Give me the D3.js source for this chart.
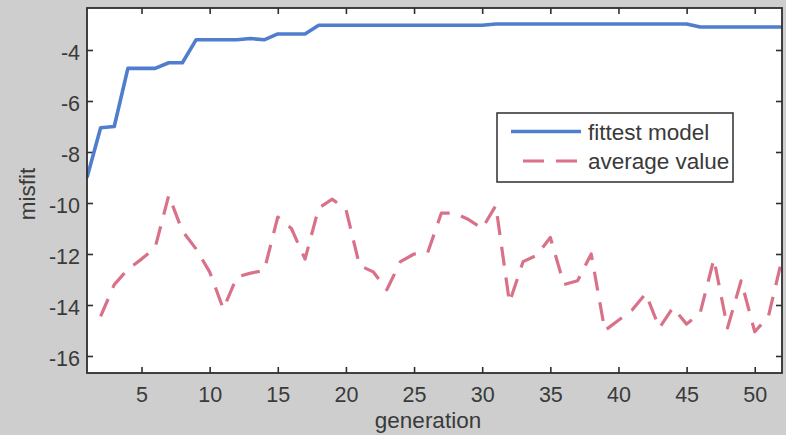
<!DOCTYPE html>
<html>
<head>
<meta charset="utf-8">
<script src="https://cdn.jsdelivr.net/npm/d3@7"></script>
<style>
  html, body { margin: 0; padding: 0; background: #cdcecd; }
  svg { display: block; }
  text { font-family: "Liberation Sans", Arial, sans-serif; fill: #3a3a3a; }
</style>
</head>
<body>
<svg id="chart" width="786" height="435"></svg>
<script>
// ---- data ----
const generationsFit = d3.range(1, 53);
const fittestModel = [
  -9.0, -7.05, -7.0, -4.72, -4.72, -4.72, -4.5, -4.5, -3.6, -3.6,
  -3.6, -3.6, -3.55, -3.6, -3.37, -3.37, -3.37, -3.03, -3.03, -3.03,
  -3.03, -3.03, -3.03, -3.03, -3.03, -3.03, -3.03, -3.03, -3.03, -3.03,
  -2.98, -2.98, -2.98, -2.98, -2.98, -2.98, -2.98, -2.98, -2.98, -2.98,
  -2.98, -2.98, -2.98, -2.98, -2.98, -3.1, -3.1, -3.1, -3.1, -3.1,
  -3.1, -3.1
];
const generationsAvg = d3.range(2, 53);
const averageValue = [
  -14.45, -13.2, -12.6, -12.2, -11.75, -9.7, -11.1, -11.8, -12.7,
  -14.15, -12.9, -12.75, -12.65, -10.55, -11.0, -12.2, -10.2, -9.85, -10.25,
  -12.45, -12.7, -13.4, -12.3, -12.0, -11.95, -10.4, -10.4, -10.65, -11.0,
  -10.1, -13.9, -12.3, -12.05, -11.35, -13.2, -13.05, -12.0, -15.0, -14.6,
  -14.2, -13.55, -14.9, -14.1, -14.75, -14.3, -12.2, -14.9, -13.05, -15.05,
  -14.45, -12.2
];
const xTicks = [5, 10, 15, 20, 25, 30, 35, 40, 45, 50];
const yTicks = [-4, -6, -8, -10, -12, -14, -16];
const seriesNames = ["fittest model", "average value"];
const xLabel = "generation";
const yLabel = "misfit";

// ---- layout ----
const pLeft = 87, pRight = 782, pTop = 8, pBottom = 373;
const svg = d3.select("#chart");

const x = d3.scaleLinear().domain([1, 52]).range([pLeft, pRight]);
const y = d3.scaleLinear().domain([-16.667, -2.353]).range([pBottom, pTop]);

svg.append("rect")
  .attr("x", pLeft).attr("y", pTop)
  .attr("width", pRight - pLeft).attr("height", pBottom - pTop)
  .attr("fill", "#ffffff");

svg.append("clipPath").attr("id", "clip")
  .append("rect")
  .attr("x", pLeft).attr("y", pTop)
  .attr("width", pRight - pLeft).attr("height", pBottom - pTop);

const tickFont = 21.5;
const labelFont = 22.5;
const axisColor = "#2e2e2e";

const xAxisB = d3.axisBottom(x).tickValues(xTicks).tickSizeInner(-6).tickSizeOuter(0).tickPadding(14);
const xAxisT = d3.axisTop(x).tickValues(xTicks).tickSizeInner(-6).tickSizeOuter(0).tickFormat("");
const yAxisL = d3.axisLeft(y).tickValues(yTicks).tickSizeInner(-6).tickSizeOuter(0).tickPadding(7);
const yAxisR = d3.axisRight(y).tickValues(yTicks).tickSizeInner(-6).tickSizeOuter(0).tickFormat("");

function styleAxis(g) {
  g.select(".domain").remove();
  g.selectAll(".tick line").attr("stroke", axisColor).attr("stroke-width", 1.6);
  g.selectAll(".tick text")
    .attr("fill", "#3a3a3a")
    .style("font-family", '"Liberation Sans", Arial, sans-serif')
    .style("font-size", tickFont + "px");
}

svg.append("g").attr("transform", `translate(0,${pBottom})`).call(xAxisB).call(styleAxis)
  .selectAll(".tick text").attr("dy", "0.71em");
svg.append("g").attr("transform", `translate(0,${pTop})`).call(xAxisT).call(styleAxis);
svg.append("g").attr("transform", `translate(${pLeft},0)`).call(yAxisL).call(styleAxis)
  .selectAll(".tick text").attr("dy", "0.42em").text(d => "-" + Math.abs(d));
svg.append("g").attr("transform", `translate(${pRight},0)`).call(yAxisR).call(styleAxis);

const plot = svg.append("g").attr("clip-path", "url(#clip)");

const lineFit = d3.line().x((d, i) => x(generationsFit[i])).y(d => y(d));
const lineAvg = d3.line().x((d, i) => x(generationsAvg[i])).y(d => y(d));

plot.append("path")
  .datum(averageValue)
  .attr("d", lineAvg)
  .attr("fill", "none")
  .attr("stroke", "#d97189")
  .attr("stroke-width", 3.2)
  .attr("stroke-dasharray", "19,12")
  .attr("stroke-linejoin", "round");

plot.append("path")
  .datum(fittestModel)
  .attr("d", lineFit)
  .attr("fill", "none")
  .attr("stroke", "#4f7fcc")
  .attr("stroke-width", 3.6)
  .attr("stroke-linejoin", "round");

svg.append("rect")
  .attr("x", pLeft).attr("y", pTop)
  .attr("width", pRight - pLeft).attr("height", pBottom - pTop)
  .attr("fill", "none")
  .attr("stroke", axisColor)
  .attr("stroke-width", 1.8);

// legend
const lg = svg.append("g");
lg.append("rect")
  .attr("x", 497).attr("y", 113)
  .attr("width", 236).attr("height", 69)
  .attr("fill", "#ffffff")
  .attr("stroke", axisColor)
  .attr("stroke-width", 1.5);
lg.append("line")
  .attr("x1", 511).attr("x2", 581).attr("y1", 131.5).attr("y2", 131.5)
  .attr("stroke", "#4f7fcc").attr("stroke-width", 3.6);
lg.append("line")
  .attr("x1", 523).attr("x2", 579).attr("y1", 161).attr("y2", 161)
  .attr("stroke", "#d97189").attr("stroke-width", 3.2)
  .attr("stroke-dasharray", "21,12");
lg.selectAll("text.lab")
  .data(seriesNames)
  .enter().append("text")
  .attr("class", "lab")
  .attr("x", 588)
  .attr("y", (d, i) => 132 + i * 29.5)
  .attr("dy", "0.35em")
  .style("font-size", labelFont + "px")
  .text(d => d);

svg.append("text")
  .attr("x", 428)
  .attr("y", 428)
  .attr("text-anchor", "middle")
  .style("font-size", labelFont + "px")
  .text(xLabel);

svg.append("text")
  .attr("transform", `translate(35,194) rotate(-90)`)
  .attr("text-anchor", "middle")
  .style("font-size", labelFont + "px")
  .text(yLabel);
</script>
</body>
</html>
